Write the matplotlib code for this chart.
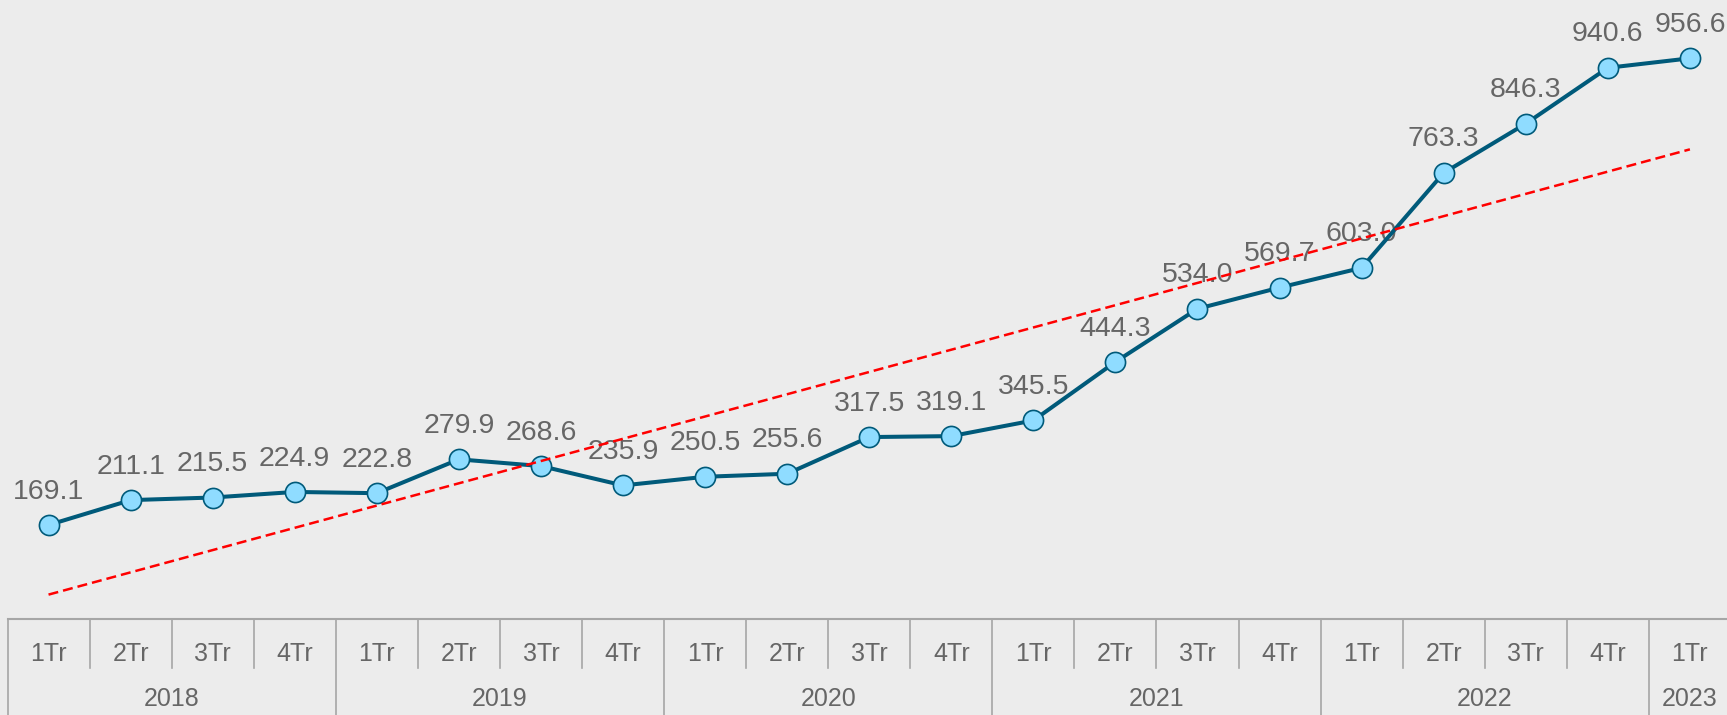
import numpy as np
import matplotlib
matplotlib.use('Agg')
import matplotlib.pyplot as plt
import matplotlib.transforms as mtransforms

# data
quarters = ['1Tr', '2Tr', '3Tr', '4Tr'] * 5 + ['1Tr']
years = ['2018', '2019', '2020', '2021', '2022', '2023']
year_quarters = [4, 4, 4, 4, 4, 1]
values = [169.1, 211.1, 215.5, 224.9, 222.8, 279.9, 268.6, 235.9, 250.5, 255.6,
          317.5, 319.1, 345.5, 444.3, 534.0, 569.7, 603.0, 763.3, 846.3, 940.6, 956.6]

bg = '#ececec'
txt_col = '#666666'
line_col = '#005a7a'
grid_col = '#a6a6a6'

plt.rcParams['font.family'] = ['Liberation Sans', 'DejaVu Sans']

W, H = 1727, 715
fig = plt.figure(figsize=(W / 100, H / 100), dpi=100, facecolor=bg)
ax_left = 7.5 / W
ax_bottom = 96 / H
ax = fig.add_axes([ax_left, ax_bottom, 1 - ax_left, 1 - ax_bottom], facecolor=bg)

x = np.arange(len(values))
ax.set_xlim(-0.5, 20.452)
ax.set_ylim(10.5, 1055)

# trend line
k, b = np.polyfit(x, values, 1)
ax.plot(x, k * x + b, color='#ff0000', lw=1.8, ls=(0, (4, 2)), zorder=4)

ax.plot(x, values, color=line_col, lw=2.9, marker='o', markersize=14.5,
        markerfacecolor='#8fdcff', markeredgecolor=line_col, markeredgewidth=1.2, zorder=3)

for xi, v in zip(x, values):
    ax.annotate(f'{v:.1f}', (xi, v), xytext=(0, 19), textcoords='offset points',
                ha='center', va='baseline', fontsize=20.5, color=txt_col, zorder=2)

# category axis table
for s in ['top', 'right', 'left']:
    ax.spines[s].set_visible(False)
ax.spines['bottom'].set_color(grid_col)
ax.spines['bottom'].set_linewidth(1.5)
ax.set_yticks([])
ax.set_xticks(x, quarters, fontsize=18, color=txt_col)
ax.tick_params(axis='x', length=0, pad=16.5)

ax_h = (1 - ax_bottom) * H
trans = mtransforms.blended_transform_factory(ax.transData, ax.transAxes)
q_depth = -49 / ax_h
y_depth = -96 / ax_h
year_bounds = np.cumsum([0] + year_quarters) - 0.5
for i in range(len(values) + 1):
    edge = i - 0.5
    depth = y_depth if edge in year_bounds else q_depth
    ax.plot([edge, edge], [0, depth], color=grid_col, lw=1.2, transform=trans, clip_on=False)

for yr, lo, hi in zip(years, year_bounds[:-1], year_bounds[1:]):
    ax.text((lo + hi) / 2, -80 / ax_h, yr, transform=trans, ha='center', va='center',
            fontsize=18, color=txt_col)

fig.savefig('out.png', dpi=100, facecolor=bg)
